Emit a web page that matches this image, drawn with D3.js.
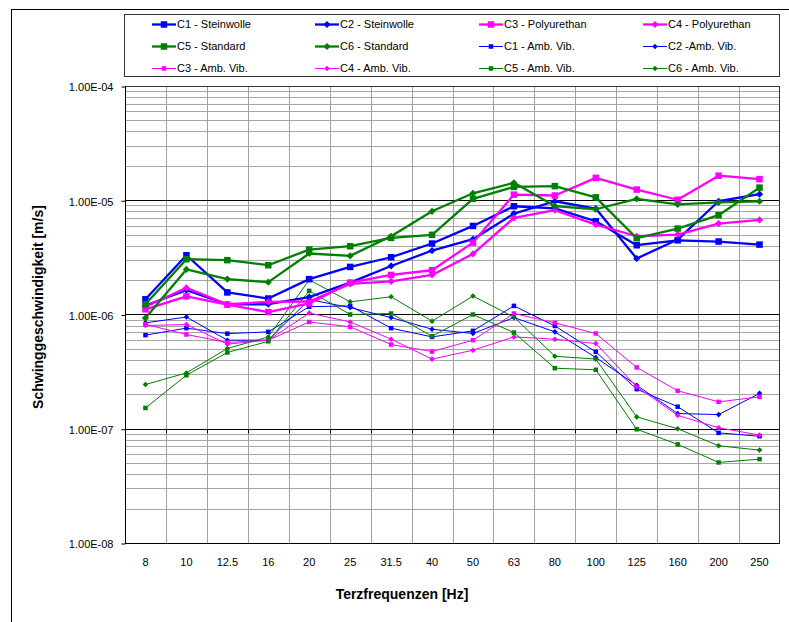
<!DOCTYPE html>
<html>
<head>
<meta charset="utf-8">
<script src="https://cdn.jsdelivr.net/npm/d3@7"></script>
<style>
  html, body { margin: 0; padding: 0; background: #fff; }
  svg { display: block; font-family: "Liberation Sans", Arial, sans-serif; }
</style>
</head>
<body>
<svg id="chart" width="789" height="622"></svg>
<script>
// ---------- data ----------
const categories = ["8","10","12.5","16","20","25","31.5","40","50","63","80","100","125","160","200","250"];
const yTickValues = [1e-8, 1e-7, 1e-6, 1e-5, 1e-4];
const yTickLabels = ["1.00E-08","1.00E-07","1.00E-06","1.00E-05","1.00E-04"];

const c1Stein = [1.36e-6, 3.3e-6, 1.56e-6, 1.38e-6, 2.04e-6, 2.61e-6, 3.17e-6, 4.18e-6, 5.96e-6, 8.86e-6, 8.5e-6, 6.55e-6, 4.04e-6, 4.46e-6, 4.35e-6, 4.09e-6];
const c2Stein = [1.2e-6, 1.63e-6, 1.23e-6, 1.23e-6, 1.42e-6, 1.9e-6, 2.66e-6, 3.63e-6, 4.56e-6, 7.64e-6, 9.8e-6, 8.46e-6, 3.09e-6, 4.53e-6, 9.8e-6, 1.13e-5];
const c3Poly  = [1.11e-6, 1.44e-6, 1.22e-6, 1.05e-6, 1.25e-6, 1.9e-6, 2.22e-6, 2.44e-6, 4.26e-6, 1.12e-5, 1.1e-5, 1.57e-5, 1.24e-5, 1.01e-5, 1.64e-5, 1.53e-5];
const c4Poly  = [1.17e-6, 1.71e-6, 1.23e-6, 1.29e-6, 1.3e-6, 1.85e-6, 1.95e-6, 2.22e-6, 3.39e-6, 7.0e-6, 8.18e-6, 6.12e-6, 4.84e-6, 5.01e-6, 6.25e-6, 6.73e-6];
const c5Std   = [1.23e-6, 3.05e-6, 2.99e-6, 2.7e-6, 3.7e-6, 3.96e-6, 4.68e-6, 4.98e-6, 1.03e-5, 1.31e-5, 1.33e-5, 1.06e-5, 4.65e-6, 5.65e-6, 7.4e-6, 1.29e-5];
const c6Std   = [9.3e-7, 2.48e-6, 2.04e-6, 1.92e-6, 3.42e-6, 3.26e-6, 4.84e-6, 8.0e-6, 1.15e-5, 1.42e-5, 8.9e-6, 8.34e-6, 1.03e-5, 9.2e-6, 9.6e-6, 9.8e-6];
const c1Amb   = [6.6e-7, 7.6e-7, 6.8e-7, 7.05e-7, 1.17e-6, 1.19e-6, 7.59e-7, 6.37e-7, 7.19e-7, 1.19e-6, 7.94e-7, 4.71e-7, 2.22e-7, 1.56e-7, 9.2e-8, 8.6e-8];
const c2Amb   = [8.45e-7, 9.5e-7, 5.96e-7, 5.96e-7, 1.35e-6, 1.15e-6, 9.4e-7, 7.43e-7, 6.82e-7, 9.4e-7, 7.05e-7, 4.2e-7, 2.4e-7, 1.36e-7, 1.33e-7, 2.04e-7];
const c3Amb   = [8.2e-7, 6.68e-7, 5.69e-7, 5.96e-7, 8.6e-7, 7.8e-7, 5.46e-7, 4.74e-7, 5.96e-7, 1.02e-6, 8.45e-7, 6.82e-7, 3.44e-7, 2.15e-7, 1.72e-7, 1.9e-7];
const c4Amb   = [8.0e-7, 8.17e-7, 5.5e-7, 5.96e-7, 1.03e-6, 8.6e-7, 6.08e-7, 4.07e-7, 4.87e-7, 6.37e-7, 6.08e-7, 5.57e-7, 2.33e-7, 1.31e-7, 1.02e-7, 8.8e-8];
const c5Amb   = [1.52e-7, 2.94e-7, 4.65e-7, 5.83e-7, 1.61e-6, 1.0e-6, 1.02e-6, 6.46e-7, 1.0e-6, 6.95e-7, 3.39e-7, 3.28e-7, 9.9e-8, 7.3e-8, 5.07e-8, 5.42e-8];
const c6Amb   = [2.44e-7, 3.08e-7, 5.04e-7, 6.37e-7, 2.01e-6, 1.29e-6, 1.43e-6, 8.74e-7, 1.45e-6, 9.5e-7, 4.31e-7, 4.07e-7, 1.27e-7, 1.0e-7, 7.1e-8, 6.5e-8];

const seriesNames = ["C1 - Steinwolle","C2 - Steinwolle","C3 - Polyurethan","C4 - Polyurethan",
                     "C5 - Standard","C6 - Standard","C1 - Amb. Vib.","C2 -Amb. Vib.",
                     "C3 - Amb. Vib.","C4 - Amb. Vib.","C5 - Amb. Vib.","C6 - Amb. Vib."];
const seriesValues = [c1Stein, c2Stein, c3Poly, c4Poly, c5Std, c6Std, c1Amb, c2Amb, c3Amb, c4Amb, c5Amb, c6Amb];
const seriesColors = ["#0000ff","#0000ff","#ff00ff","#ff00ff","#008000","#008000",
                      "#0000ff","#0000ff","#ff00ff","#ff00ff","#008000","#008000"];
const seriesMarkers = ["square","diamond","square","diamond","square","diamond",
                       "square","diamond","square","diamond","square","diamond"];
const seriesThick = [true,true,true,true,true,true,false,false,false,false,false,false];

const series = seriesNames.map((n, i) => ({
  name: n, values: seriesValues[i], color: seriesColors[i],
  marker: seriesMarkers[i], thick: seriesThick[i]
}));

// ---------- layout ----------
const svg = d3.select("#chart");
const W = 789, H = 622;
const plot = { left: 125, right: 780, top: 86, bottom: 543 };

svg.append("rect").attr("x", 0).attr("y", 0).attr("width", W).attr("height", H).attr("fill", "#fff");
// outer chart frame (continues past the window)
svg.append("rect").attr("x", 11.5).attr("y", 9.5).attr("width", 900).attr("height", 900)
  .attr("fill", "none").attr("stroke", "#000").attr("stroke-width", 1);

const x = d3.scaleBand().domain(categories).range([plot.left, plot.right]).paddingInner(0).paddingOuter(0);
const y = d3.scaleLog().domain([1e-8, 1e-4]).range([plot.bottom, plot.top]);
const cx = c => x(c) + x.bandwidth() / 2;
const snap = v => Math.round(v) + 0.5;

// minor gridlines
const minors = [];
for (let e = -8; e < -4; e++) for (let m = 2; m <= 9; m++) minors.push(m * Math.pow(10, e));
svg.append("g").selectAll("line").data(minors).join("line")
  .attr("x1", plot.left).attr("x2", plot.right)
  .attr("y1", d => snap(y(d))).attr("y2", d => snap(y(d)))
  .attr("stroke", "#a6a6a6").attr("stroke-width", 1);

// vertical gridlines at category boundaries
svg.append("g").selectAll("line").data(categories.slice(1)).join("line")
  .attr("x1", d => snap(x(d))).attr("x2", d => snap(x(d)))
  .attr("y1", plot.top).attr("y2", plot.bottom)
  .attr("stroke", "#a0a0a0").attr("stroke-width", 1);

// major gridlines
svg.append("g").selectAll("line").data([1e-7, 1e-6, 1e-5]).join("line")
  .attr("x1", plot.left).attr("x2", plot.right)
  .attr("y1", d => snap(y(d))).attr("y2", d => snap(y(d)))
  .attr("stroke", "#000").attr("stroke-width", 1);

// plot frame
svg.append("rect")
  .attr("x", plot.left + 0.5).attr("y", plot.top + 0.5)
  .attr("width", plot.right - plot.left - 1).attr("height", plot.bottom - plot.top)
  .attr("fill", "none").attr("stroke", "#333").attr("stroke-width", 1);
svg.append("line").attr("x1", plot.left + 0.5).attr("x2", plot.left + 0.5)
  .attr("y1", plot.top).attr("y2", plot.bottom + 0.5).attr("stroke", "#000");
svg.append("line").attr("x1", plot.left).attr("x2", plot.right)
  .attr("y1", snap(y(1e-8))).attr("y2", snap(y(1e-8))).attr("stroke", "#000");

// y axis (left) with tick labels
const yAxis = d3.axisLeft(y).tickValues(yTickValues)
  .tickFormat((d, i) => yTickLabels[i]).tickSize(4).tickPadding(8);
const gy = svg.append("g").attr("transform", `translate(${plot.left + 0.5},0.5)`).call(yAxis);
gy.select(".domain").remove();
gy.selectAll(".tick line").attr("stroke", "#000");
gy.selectAll(".tick text").attr("font-size", 11).attr("fill", "#000")
  .attr("font-family", '"Liberation Sans", Arial, sans-serif').attr("dy", "0.4em");

// category axis crossing at 1e-7 (ticks at boundaries)
const boundaries = categories.slice(1);
svg.append("g").selectAll("line").data(boundaries).join("line")
  .attr("x1", d => snap(x(d))).attr("x2", d => snap(x(d)))
  .attr("y1", snap(y(1e-7))).attr("y2", snap(y(1e-7)) + 4)
  .attr("stroke", "#000");

// category labels at bottom
svg.append("g").selectAll("text").data(categories).join("text")
  .attr("x", d => cx(d)).attr("y", 566)
  .attr("text-anchor", "middle").attr("font-size", 11).attr("fill", "#000")
  .text(d => d);

// axis titles
svg.append("text").attr("x", 402).attr("y", 599).attr("text-anchor", "middle")
  .attr("font-size", 14).attr("font-weight", "bold").text("Terzfrequenzen [Hz]");
svg.append("text").attr("transform", "translate(43,307) rotate(-90)").attr("text-anchor", "middle")
  .attr("font-size", 14).attr("font-weight", "bold").text("Schwinggeschwindigkeit [m/s]");

// ---------- series ----------
function drawMarker(g, type, px, py, thick, color) {
  if (type === "square") {
    const s = thick ? 6.5 : 4.5;
    g.append("rect").attr("x", px - s / 2).attr("y", py - s / 2).attr("width", s).attr("height", s)
      .attr("fill", color).attr("stroke", "none");
  } else {
    const r = thick ? 3.6 : 2.8;
    g.append("path").attr("d", `M${px},${py - r}L${px + r},${py}L${px},${py + r}L${px - r},${py}Z`)
      .attr("fill", color).attr("stroke", "none");
  }
}

const line = d3.line().x((d, i) => cx(categories[i])).y(d => y(d));
const order = [6,7,8,9,10,11,0,1,2,3,4,5];
order.forEach(si => {
  const s = series[si];
  const g = svg.append("g");
  g.append("path").datum(s.values).attr("d", line)
    .attr("fill", "none").attr("stroke", s.color)
    .attr("stroke-width", s.thick ? 2.3 : 1).attr("stroke-linejoin", "round");
  s.values.forEach((v, i) => drawMarker(g, s.marker, cx(categories[i]), y(v), s.thick, s.color));
});

// ---------- legend ----------
svg.append("rect").attr("x", 124.5).attr("y", 14.5).attr("width", 655).attr("height", 62)
  .attr("fill", "#fff").attr("stroke", "#333").attr("stroke-width", 1);
const colX = [152, 315, 479, 643];
const rowY = [24.5, 46.5, 68.5];
series.forEach((s, i) => {
  const c = i % 4, r = Math.floor(i / 4);
  const g = svg.append("g");
  const x0 = colX[c], yy = rowY[r];
  g.append("line").attr("x1", x0).attr("x2", x0 + 24).attr("y1", yy).attr("y2", yy)
    .attr("stroke", s.color).attr("stroke-width", s.thick ? 2.3 : 1);
  drawMarker(g, s.marker, x0 + 12, yy, s.thick, s.color);
  g.append("text").attr("x", x0 + 25).attr("y", yy).attr("dy", "0.36em")
    .attr("font-size", 11).attr("fill", "#000").text(s.name);
});
</script>
</body>
</html>
